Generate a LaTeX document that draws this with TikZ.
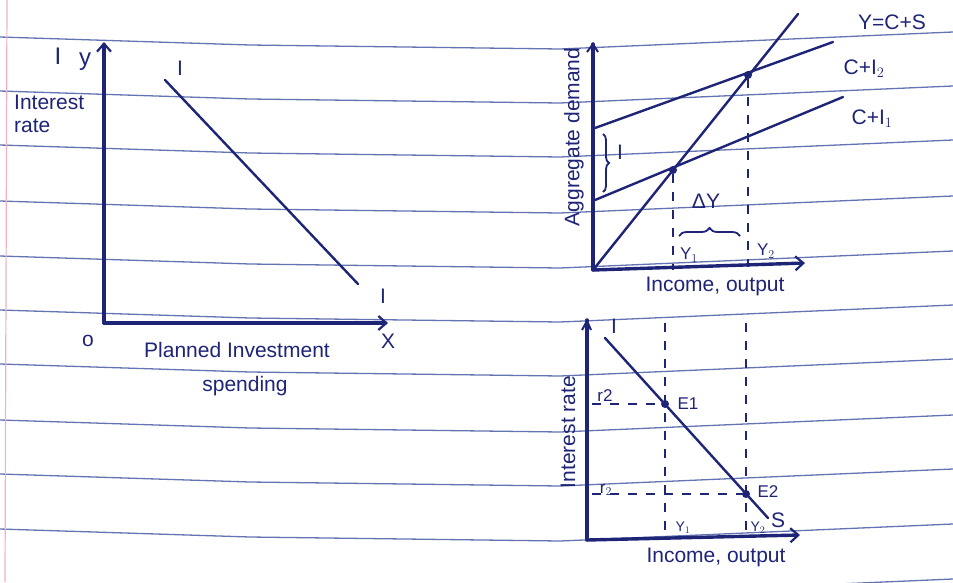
\documentclass[tikz,border=0pt]{standalone}
\usepackage{fontspec}
\setmainfont{Liberation Sans}
\usetikzlibrary{arrows.meta,decorations.pathreplacing}
\definecolor{ink}{RGB}{30,36,118}
\definecolor{ruled}{RGB}{100,115,178}
\definecolor{margin}{RGB}{238,178,200}
\tikzset{
  axis/.style={draw=ink,line width=3.4pt,line cap=round},
  curve/.style={draw=ink,line width=2.4pt,line cap=round},
  guide/.style={draw=ink,line width=1.8pt,dash pattern=on 9pt off 9pt},
  tip/.style={-{Straight Barb[length=8pt,width=14pt,line width=2.2pt]}},
  lbl/.style={text=ink,font=\fontsize{21}{23}\selectfont,inner sep=0pt},
  small/.style={text=ink,font=\fontsize{17}{19}\selectfont,inner sep=0pt},
  dot/.style={circle,fill=ink,inner sep=0pt,minimum size=8pt},
  rule/.style={draw=ruled,line width=1.3pt}
}
\begin{document}
\begin{tikzpicture}[x=1pt,y=-1pt]
\useasboundingbox (0,0) rectangle (953,582);
\begin{scope}
\clip (0,0) rectangle (953,582);
% ruled paper
\foreach \r in {37,91,145,201,256,310,364,420,474,529,584}{
  \draw[rule] (0,\r) -- (250,\r+8) -- (560,\r+12) -- (953,\r-5);
}
\draw[draw=margin,line width=1.2pt] (7,0) -- (5,582);
\end{scope}

% ---------------- left graph ----------------
\coordinate (O1) at (104,323);
\coordinate (Y1top) at (104,42);
\coordinate (X1end) at (388,323);
\draw[axis,tip] (O1) -- (Y1top);
\draw[axis,tip] (O1) -- (X1end);
\coordinate (Ia) at (165,80);
\coordinate (Ib) at (358,284);
\draw[curve] (Ia) -- (Ib);
\node[lbl,font=\fontsize{24}{26}\selectfont] (lI1) at (58,56) {I};
\node[lbl,font=\fontsize{24}{26}\selectfont] (ly1) at (85,62) {y};
\node[lbl,align=left,anchor=north west] (lint) at (14,95) {Interest\\rate};
\node[lbl] (lIa) at (180,68) {I};
\node[lbl] (lIb) at (383,296) {I};
\node[lbl] (lx) at (388,341) {X};
\node[lbl] (lo) at (88,341) {o};
\node[lbl] (lpl) at (237,350) {Planned Investment};
\node[lbl] (lsp) at (245,386) {spending};

% ---------------- top right graph ----------------
\coordinate (O2) at (593,270);
\coordinate (Y2top) at (593,44);
\coordinate (X2end) at (805,263);
\draw[axis] (O2) -- (Y2top);
\draw[ink,line width=2pt] (587,52) -- (593,44) -- (598,52);
\draw[axis,tip] (O2) -- (X2end);
\coordinate (L45) at (798,14);
\draw[curve] (O2) -- (L45);
\coordinate (A1) at (595,200);
\coordinate (B1) at (843,97);
\draw[curve] (A1) -- (B1);
\coordinate (A2) at (595,128);
\coordinate (B2) at (833,42);
\draw[curve] (A2) -- (B2);
\node[dot] (E1t) at (673,170) {};
\node[dot] (E2t) at (748,75) {};
\coordinate (Y1t) at (673,270);
\coordinate (Y2t) at (748,267);
\draw[guide] (E1t) -- (Y1t);
\draw[guide] (E2t) -- (Y2t);
\coordinate (brT) at (603,134);
\coordinate (brB) at (603,192);
\draw[ink,line width=1.8pt,decorate,decoration={brace,amplitude=6pt}] (brT) -- (brB);
\coordinate (bhL) at (679,236);
\coordinate (bhR) at (740,236);
\draw[ink,line width=1.8pt,decorate,decoration={brace,amplitude=8pt}] (bhL) -- (bhR);
\node[lbl] (lIbr) at (620,152) {I};
\node[lbl] (ldY) at (706,201) {ΔY};
\node[small] (lY1t) at (689,255) {Y$_1$};
\node[small] (lY2t) at (766,251) {Y$_2$};
\node[lbl] (linc1) at (715,286) {Income, output};
\node[lbl] (lycs) at (892,22) {Y=C+S};
\node[lbl] (lci2) at (864,69) {C+I$_2$};
\node[lbl] (lci1) at (872,119) {C+I$_1$};
\node[lbl,rotate=90] (lagg) at (574,137) {Aggregate demand};

% ---------------- bottom right graph ----------------
\coordinate (O3) at (587,540);
\coordinate (Y3top) at (587,320);
\coordinate (X3end) at (800,535);
\draw[axis] (O3) -- (Y3top);
\draw[ink,line width=2pt] (582,330) -- (587,321) -- (591,330);
\draw[axis,tip] (O3) -- (X3end);
\coordinate (Ia3) at (605,338);
\coordinate (Sb) at (768,518);
\draw[curve] (Ia3) -- (Sb);
\node[dot] (E1b) at (665,404) {};
\node[dot] (E2b) at (746,494) {};
\coordinate (v1top) at (665,323);
\coordinate (v1bot) at (665,538);
\coordinate (v2top) at (746,323);
\coordinate (v2bot) at (746,536);
\draw[guide] (v1top) -- (v1bot);
\draw[guide] (v2top) -- (v2bot);
\coordinate (h1) at (592,404);
\coordinate (h2) at (592,494);
\draw[guide] (h1) -- (E1b);
\draw[guide] (h2) -- (E2b);
\node[lbl] (lIb3) at (614,326) {I};
\node[small] (lr2a) at (605,396) {r2};
\node[small] (lr2b) at (606,490) {r$_2$};
\node[small] (lE1) at (688,404) {E1};
\node[small] (lE2) at (768,492) {E2};
\node[lbl] (lS) at (778,520) {S};
\node[small,font=\fontsize{14}{16}\selectfont] (lY1b) at (683,528) {Y$_1$};
\node[small,font=\fontsize{14}{16}\selectfont] (lY2b) at (758,528) {Y$_2$};
\node[lbl] (linc2) at (716,557) {Income, output};
\node[lbl,rotate=90] (lintr) at (568,432) {Interest rate};
\end{tikzpicture}
\end{document}
